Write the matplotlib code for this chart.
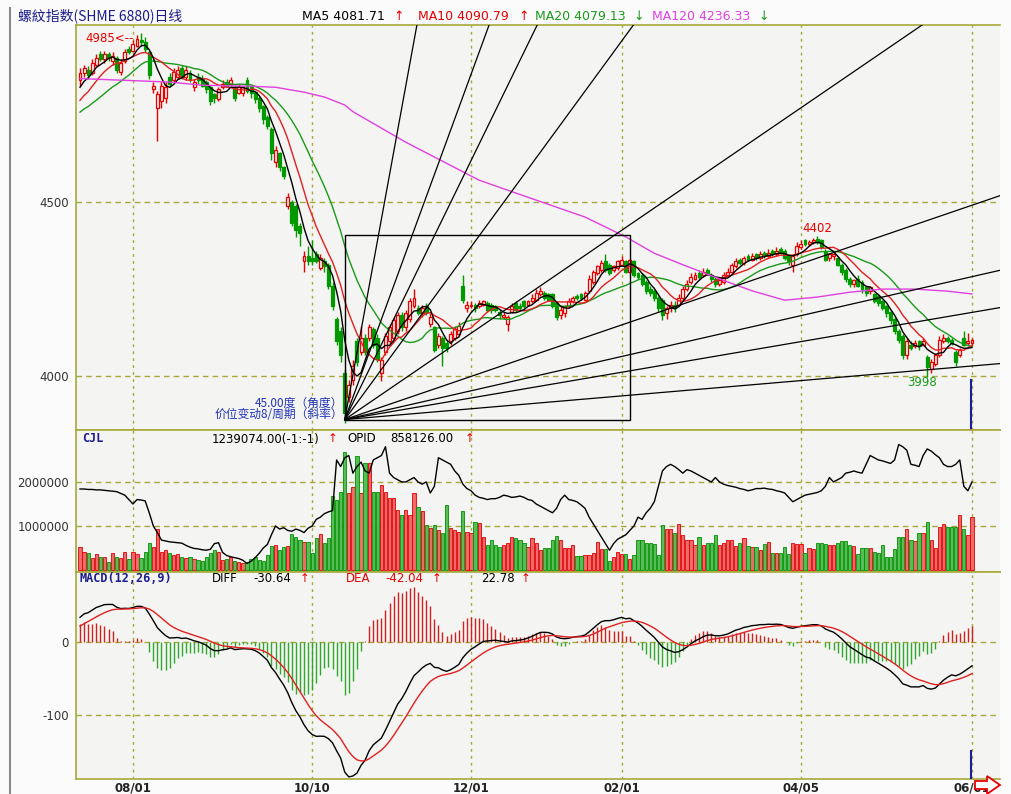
import numpy as np
import pandas as pd
import matplotlib
matplotlib.use('Agg')
import matplotlib.pyplot as plt
from matplotlib.patches import Rectangle, Polygon
from matplotlib.lines import Line2D

W, H, DPI = 1011, 794, 100

# ---------------- data ----------------
prior_closes = [4700, 4730, 4710, 4740, 4720, 4735, 4715, 4730, 4740, 4725,
                4745, 4760, 4740, 4770, 4760, 4800, 4815, 4830, 4835]

opens = [
 4850,4870,4880,4870,4895,4925,4910,4925,4905,4915,
 4875,4905,4940,4935,4950,4965,4960,4930,4825,4770,
 4790,4800,4860,4850,4860,4885,4860,4870,4830,4860,
 4855,4845,4830,4810,4795,4830,4845,4840,4830,4815,
 4815,4850,4830,4815,4800,4775,4745,4710,4615,4640,
 4600,4490,4500,4490,4430,4330,4345,4340,4350,4310,
 4330,4320,4260,4165,4130,4010,3940,3990,4100,4070,
 4110,4110,4135,4110,4010,4070,4100,4110,4130,4175,
 4140,4165,4200,4195,4180,4200,4150,4140,4090,4110,
 4095,4100,4110,4120,4260,4195,4200,4205,4200,4205,
 4210,4205,4200,4185,4170,4150,4185,4210,4200,4215,
 4205,4215,4220,4235,4240,4235,4235,4210,4175,4180,
 4200,4215,4230,4235,4220,4245,4270,4295,4305,4330,
 4320,4305,4310,4320,4330,4300,4330,4295,4290,4270,
 4250,4245,4225,4220,4180,4195,4205,4205,4225,4250,
 4270,4280,4295,4290,4305,4290,4280,4265,4270,4290,
 4300,4315,4335,4325,4345,4335,4350,4340,4355,4345,
 4360,4350,4365,4360,4345,4320,4350,4370,4390,4380,
 4385,4395,4390,4360,4340,4345,4340,4320,4305,4280,
 4265,4280,4270,4255,4245,4235,4230,4215,4200,4185,
 4165,4130,4115,4060,4090,4085,4100,4090,4055,4020,
 4035,4060,4100,4110,4105,4070,4060,4110,4095,4095]
closes = [
 4870,4885,4865,4900,4915,4910,4925,4915,4920,4880,
 4900,4930,4930,4955,4970,4960,4940,4865,4835,4810,
 4835,4830,4840,4875,4880,4860,4880,4855,4845,4850,
 4835,4825,4790,4800,4825,4840,4835,4850,4800,4830,
 4830,4820,4815,4795,4770,4740,4720,4640,4650,4600,
 4575,4515,4440,4420,4410,4345,4330,4330,4330,4340,
 4315,4260,4200,4100,4060,3895,3975,4030,4040,4110,
 4070,4140,4090,4050,4045,4115,4140,4160,4175,4140,
 4180,4215,4225,4180,4195,4185,4170,4075,4115,4080,
 4080,4120,4135,4145,4220,4205,4205,4195,4210,4215,
 4190,4190,4190,4175,4175,4170,4200,4190,4195,4200,
 4215,4225,4240,4245,4225,4220,4200,4170,4190,4200,
 4215,4225,4225,4225,4240,4280,4300,4315,4325,4305,
 4295,4315,4330,4335,4300,4335,4290,4285,4265,4245,
 4240,4225,4195,4175,4195,4205,4195,4225,4250,4265,
 4285,4290,4285,4300,4295,4280,4265,4275,4290,4300,
 4320,4330,4325,4340,4335,4345,4340,4350,4345,4355,
 4350,4360,4355,4340,4330,4345,4375,4380,4380,4385,
 4390,4385,4370,4335,4350,4350,4320,4300,4280,4265,
 4275,4260,4250,4240,4255,4215,4210,4195,4180,4160,
 4130,4105,4060,4100,4080,4095,4085,4100,4025,4040,
 4060,4105,4110,4100,4095,4040,4075,4090,4100,4105]
highs = [
 4885,4895,4890,4910,4925,4935,4935,4930,4930,4920,
 4910,4940,4950,4965,4980,4985,4975,4935,4845,4820,
 4845,4845,4870,4885,4890,4895,4890,4880,4855,4870,
 4865,4850,4835,4815,4830,4850,4855,4860,4835,4840,
 4835,4860,4835,4820,4805,4780,4750,4715,4660,4645,
 4605,4525,4505,4495,4440,4360,4375,4390,4360,4350,
 4340,4325,4270,4170,4140,4020,3990,4045,4110,4145,
 4120,4150,4140,4120,4055,4125,4150,4170,4185,4185,
 4190,4225,4250,4205,4205,4210,4180,4145,4125,4115,
 4105,4130,4145,4155,4290,4215,4215,4210,4220,4220,
 4215,4210,4205,4190,4185,4175,4210,4215,4210,4220,
 4220,4235,4250,4255,4245,4240,4240,4215,4200,4205,
 4225,4230,4235,4240,4245,4290,4305,4320,4335,4350,
 4325,4320,4335,4345,4335,4340,4335,4300,4295,4275,
 4260,4250,4230,4225,4200,4215,4215,4235,4260,4275,
 4295,4300,4305,4310,4310,4295,4285,4285,4300,4310,
 4325,4340,4340,4345,4350,4355,4355,4360,4360,4365,
 4365,4370,4370,4365,4350,4350,4385,4390,4395,4390,
 4398,4402,4395,4365,4355,4360,4345,4325,4310,4285,
 4280,4290,4275,4260,4260,4240,4235,4220,4205,4190,
 4170,4135,4120,4110,4100,4105,4105,4110,4060,4050,
 4065,4115,4120,4115,4110,4075,4080,4130,4125,4110]
lows = [
 4835,4860,4855,4865,4890,4905,4900,4905,4895,4870,
 4865,4900,4925,4930,4945,4950,4930,4855,4815,4675,
 4770,4785,4830,4845,4855,4855,4850,4845,4820,4840,
 4830,4815,4780,4785,4790,4825,4830,4835,4790,4810,
 4805,4815,4800,4785,4760,4725,4710,4620,4600,4590,
 4565,4480,4430,4400,4375,4300,4320,4320,4325,4305,
 4300,4250,4190,4090,4040,3865,3925,3975,4030,4060,
 4060,4100,4080,4040,3985,4060,4090,4100,4120,4130,
 4130,4155,4195,4175,4170,4175,4140,4070,4080,4030,
 4070,4090,4105,4115,4210,4185,4195,4185,4195,4200,
 4185,4180,4185,4165,4165,4130,4180,4185,4190,4195,
 4200,4210,4215,4230,4220,4215,4195,4160,4165,4170,
 4195,4210,4220,4220,4215,4240,4265,4290,4300,4300,
 4290,4300,4305,4315,4295,4295,4285,4280,4260,4235,
 4230,4215,4185,4160,4165,4185,4185,4200,4220,4245,
 4265,4275,4280,4285,4290,4270,4255,4260,4265,4285,
 4295,4310,4320,4320,4330,4330,4335,4335,4340,4340,
 4345,4345,4350,4335,4320,4300,4345,4365,4375,4375,
 4380,4380,4365,4330,4330,4335,4315,4290,4270,4255,
 4255,4255,4240,4230,4235,4210,4200,4190,4170,4150,
 4120,4095,4050,4050,4075,4080,4075,4085,3998,4010,
 4030,4055,4095,4095,4090,4030,4055,4085,4090,4090]

# volume (units of 10,000)
volumes_10k = [
 52,40,38,28,36,30,30,19,38,30,
 28,40,25,42,36,28,40,61,53,93,
 42,45,38,33,36,30,28,30,26,23,
 20,30,38,45,40,22,25,30,21,19,
 15,19,24,30,23,21,33,55,57,45,
 52,55,82,76,68,64,64,38,72,82,
 61,72,167,159,178,269,174,189,258,174,
 242,242,178,178,193,178,163,163,136,125,
 136,125,174,144,133,102,95,102,91,83,
 148,95,91,87,133,87,83,110,106,76,
 57,68,57,53,57,61,76,72,68,61,
 53,72,61,45,50,50,68,77,68,49,
 49,57,32,32,34,34,39,64,47,47,
 21,29,41,36,36,26,34,68,68,61,
 61,59,34,102,93,93,83,104,79,68,
 68,57,74,57,61,61,79,57,61,68,
 68,55,61,72,55,53,53,45,59,64,
 38,39,39,53,36,62,59,59,39,50,
 48,61,61,59,57,57,61,67,67,57,
 55,37,50,50,50,42,38,57,30,30,
 48,74,74,94,68,66,83,83,108,68,
 50,98,104,98,98,98,125,93,80,121]

# open interest OPID (units of 10,000)
opid_10k = [
 184,184,183,183,182,182,181,180,179,178,
 174,170,160,150,160,159,157,130,100,85,
 68,66,64,63,62,61,56,52,49,48,
 46,45,47,60,62,40,33,30,28,26,
 22,15,20,28,38,50,58,80,100,93,
 96,90,88,93,90,85,95,100,115,120,
 128,132,135,250,235,255,260,220,235,245,
 225,220,250,255,260,280,220,210,205,200,
 200,205,210,200,195,200,175,190,255,250,
 245,240,225,215,195,185,180,170,165,163,
 160,162,162,165,170,168,165,166,168,165,
 160,158,150,145,140,135,130,140,160,170,
 160,158,155,148,140,120,105,90,75,60,
 45,60,70,75,80,90,100,120,115,130,
 140,155,190,225,235,240,235,228,220,228,
 225,220,215,210,205,200,210,200,195,192,
 190,188,185,183,180,182,185,185,186,184,
 183,180,178,175,165,155,160,165,170,172,
 174,176,180,190,210,200,205,210,220,222,
 225,222,220,240,260,255,250,248,245,242,
 250,285,280,272,240,238,235,260,275,270,
 262,255,240,235,235,240,250,190,180,200]

ma120_idx = [0, 22, 30, 42, 48, 55, 60, 65, 67, 80, 98, 107, 124, 134, 141,
             148, 158, 165, 173, 181, 189, 197, 205, 213, 219]
ma120_val = [4855, 4845, 4836, 4833, 4830, 4816, 4802, 4779, 4760, 4672, 4563,
             4526, 4457, 4400, 4353, 4320, 4275, 4245, 4218, 4227, 4241, 4250,
             4250, 4244, 4236]

tick_idx = [13, 57, 96, 133, 177, 219]
tick_labels = ['08/01', '10/10', '12/01', '02/01', '04/05', '06/01']

gann_unit = 8
gann_ratios = [8, 4, 3, 2, 1, 1/2, 1/3, 1/4, 1/8]
gann_origin_idx = 65
gann_origin_price = 3875
box_end_idx = 135
box_top_price = 4405

# ---------------- style ----------------
plt.rcParams['font.family'] = ['DejaVu Sans']
CJK = ['Noto Sans CJK SC', 'DejaVu Sans']
OLIVE = '#a8a83a'
BG = '#f4f4f2'
RED = '#e80000'
GREEN = '#009a00'
NAVY = '#1c1c8c'

fig = plt.figure(figsize=(W / DPI, H / DPI), dpi=DPI, facecolor='#fbfbfb')

def fxp(x):
    return x / W

def fyp(y):
    return 1 - y / H

L, R = 76, 1000
def add_ax(top, bottom):
    return fig.add_axes([fxp(L), fyp(bottom), fxp(R) - fxp(L), fyp(top) - fyp(bottom)])

ax1 = add_ax(25, 430)
ax2 = add_ax(430, 572)
ax3 = add_ax(572, 779)

X0, DX = 80, 4.073
xlim = ((L - X0) / DX, (R - X0) / DX)

for ax in (ax1, ax2, ax3):
    ax.set_facecolor(BG)
    for s in ('left', 'top', 'bottom'):
        ax.spines[s].set_color(OLIVE)
        ax.spines[s].set_linewidth(1.2)
    ax.spines['right'].set_visible(False)
    ax.tick_params(length=0, labelsize=8.5, labelcolor='#333333', pad=5)
    for t in tick_idx:
        ax.axvline(t, color=OLIVE, lw=1, ls=(0, (2, 3)), zorder=0.5)

N = len(closes)
x = np.arange(N)
o = np.array(opens, float)
c = np.array(closes, float)
h = np.array(highs, float)
l = np.array(lows, float)
up = c >= o

# ---- main panel ----
for yv in (4000, 4500):
    ax1.axhline(yv, color=OLIVE, lw=1, ls=(0, (4, 3)), zorder=0.5)
ax1.vlines(x[up], l[up], h[up], color=RED, lw=1, zorder=2)
ax1.vlines(x[~up], l[~up], h[~up], color=GREEN, lw=1, zorder=2)
body_h = np.maximum(np.abs(c - o), 2)
bottom = np.minimum(o, c)
ax1.bar(x[up], body_h[up], bottom=bottom[up], width=0.72, facecolor=BG,
        edgecolor=RED, lw=0.9, zorder=3)
ax1.bar(x[~up], body_h[~up], bottom=bottom[~up], width=0.72, facecolor=GREEN,
        edgecolor=GREEN, lw=0.9, zorder=3)

allc = pd.Series(prior_closes + closes, dtype=float)
P = len(prior_closes)
ma5 = allc.rolling(5, min_periods=1).mean().values[P:]
ma10 = allc.rolling(10, min_periods=1).mean().values[P:]
ma20 = allc.rolling(20, min_periods=1).mean().values[P:]
ax1.plot(x, ma20, color='#1a9a1a', lw=1, zorder=4)
ax1.plot(x, ma10, color='#e02020', lw=1, zorder=4)
ax1.plot(x, ma5, color='black', lw=1, zorder=4)
ax1.plot(ma120_idx, ma120_val, color='#e040e0', lw=1, zorder=4)

# Gann fan
for r in gann_ratios:
    slope = gann_unit * r
    xe = 400
    ax1.plot([gann_origin_idx, xe],
             [gann_origin_price, gann_origin_price + slope * (xe - gann_origin_idx)],
             color='black', lw=0.9, zorder=5)
ax1.add_patch(Rectangle((gann_origin_idx, gann_origin_price),
                        box_end_idx - gann_origin_idx,
                        box_top_price - gann_origin_price,
                        fill=False, ec='black', lw=1, zorder=5))
ax1.plot([218.7, 218.7], [3845, 3990], color='#1c1ca0', lw=1.5, zorder=6)

ax1.set_xlim(*xlim)
ax1.set_ylim(3845, 5009)
ax1.set_xticks([])
ax1.set_yticks([4000, 4500])
ax1.set_yticklabels(['4000', '4500'])

# ---- volume panel ----
for yv in (1e6, 2e6):
    ax2.axhline(yv, color=OLIVE, lw=1, ls=(0, (4, 3)), zorder=0.5)
vol = np.array(volumes_10k, float) * 1e4
ax2.bar(x[up], vol[up], width=0.8, facecolor='#f06a6a', edgecolor='#e00000', lw=0.6, zorder=2)
ax2.bar(x[~up], vol[~up], width=0.8, facecolor='#58bc58', edgecolor='#009000', lw=0.6, zorder=2)
ax2.plot(x, np.array(opid_10k, float) * 1e4, color='black', lw=1, zorder=3)
ax2.set_xlim(*xlim)
ax2.set_ylim(-45000, 3.18e6)
ax2.set_xticks([])
ax2.set_yticks([1e6, 2e6])
ax2.set_yticklabels(['1000000', '2000000'])

# ---- MACD panel ----
ema12 = allc.ewm(span=12, adjust=False).mean()
ema26 = allc.ewm(span=26, adjust=False).mean()
diff_s = ema12 - ema26
dea_s = diff_s.ewm(span=9, adjust=False).mean()
diff = diff_s.values[P:]
dea = dea_s.values[P:]
hist = 2 * (diff - dea)
for yv in (0, -100):
    ax3.axhline(yv, color=OLIVE, lw=1, ls=(0, (4, 3)), zorder=0.5)
ax3.vlines(x, 0, hist, colors=np.where(hist >= 0, '#d02020', '#30a830'), lw=1, zorder=2)
ax3.plot(x, diff, color='black', lw=1, zorder=3)
ax3.plot(x, dea, color='#e02020', lw=1, zorder=3)
ax3.plot([218.7, 218.7], [-188, -150], color='#1c1ca0', lw=1.5, zorder=6)
ax3.set_xlim(*xlim)
ax3.set_ylim(-188, 96)
ax3.set_yticks([-100, 0])
ax3.set_yticklabels(['-100', '0'])
ax3.set_xticks(tick_idx)
ax3.set_xticklabels(tick_labels, fontweight='bold', fontsize=8.5, color='#222222')
ax3.tick_params(axis='x', pad=1.5)

# ---------------- texts ----------------
def ftext(xp, yp, s, color, size=9, family=None, ha='left', weight='normal'):
    fig.text(fxp(xp), fyp(yp), s, color=color, fontsize=size,
             family=family if family else ['DejaVu Sans'], ha=ha, va='center',
             weight=weight, zorder=10)

ftext(18, 16, '螺紋指数(SHME 6880)日线', NAVY, size=10, family=CJK)
ftext(302, 17, 'MA5 4081.71', 'black')
ftext(393, 17, '↑', RED)
ftext(418, 17, 'MA10 4090.79', RED)
ftext(518, 17, '↑', RED)
ftext(535, 17, 'MA20 4079.13', '#1a9a1a')
ftext(633, 17, '↓', '#1a9a1a')
ftext(652, 17, 'MA120 4236.33', '#e040e0')
ftext(758, 17, '↓', '#1a9a1a')

ftext(82, 439, 'CJL', NAVY, size=8.5, family=['DejaVu Sans Mono'], weight='bold')
ftext(212, 439, '1239074.00(-1:-1)', 'black', size=8.5)
ftext(328, 439, '↑', RED, size=8.5)
ftext(347, 439, 'OPID', 'black', size=8.5)
ftext(390, 439, '858126.00', 'black', size=8.5)
ftext(465, 439, '↑', RED, size=8.5)

ftext(80, 578, 'MACD(12,26,9)', NAVY, size=8.5, family=['DejaVu Sans Mono'], weight='bold')
ftext(212, 578, 'DIFF', 'black', size=8.5)
ftext(253, 578, '-30.64', 'black', size=8.5)
ftext(300, 578, '↑', RED, size=8.5)
ftext(346, 578, 'DEA', RED, size=8.5)
ftext(385, 578, '-42.04', RED, size=8.5)
ftext(432, 578, '↑', RED, size=8.5)
ftext(481, 578, '22.78', 'black', size=8.5)
ftext(521, 578, '↑', RED, size=8.5)

ftext(85, 39, '4985<--', RED, size=8.5)
ftext(802, 228, '4402', RED, size=8.5)
ftext(907, 383, '3998', '#1a9a1a', size=8.5)
ftext(343, 403, '45.00度（角度）', '#2233bb', size=8.5, family=CJK, ha='right')
ftext(343, 414, '价位变动8/周期（斜率）', '#2233bb', size=8.5, family=CJK, ha='right')

# left border and bottom-right arrow
fig.add_artist(Line2D([fxp(10), fxp(10)], [fyp(8), 0], color='#8a8a8a', lw=1.5))
arrow_px = [(975, 781), (987, 781), (987, 776), (1000, 785), (987, 794),
            (987, 789), (975, 789)]
fig.add_artist(Polygon([(fxp(a), fyp(b)) for a, b in arrow_px], closed=True,
                       facecolor='white', edgecolor=RED, lw=1.3, zorder=20))

fig.savefig('out.png', dpi=DPI, facecolor=fig.get_facecolor())
